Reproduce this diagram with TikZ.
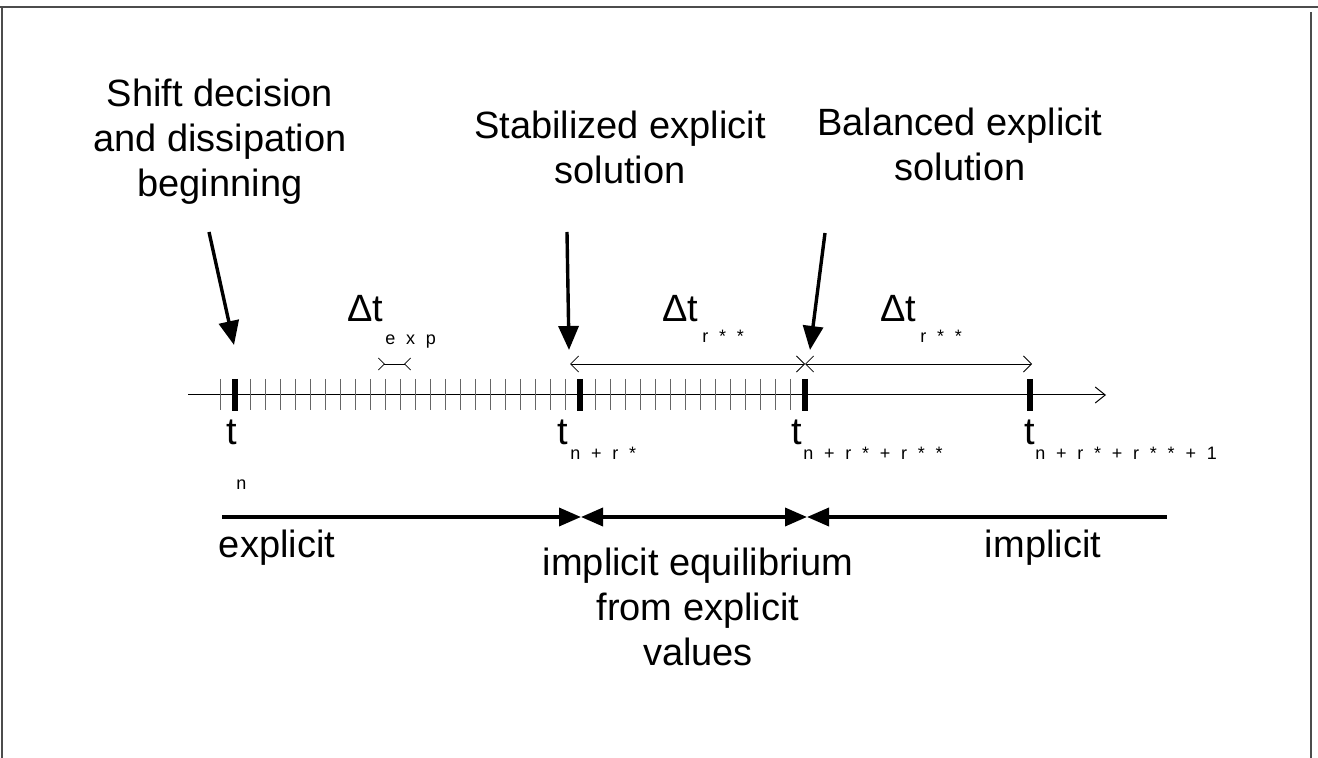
\documentclass[tikz,border=0pt]{standalone}
\usepackage{fontspec}
\setmainfont{Liberation Sans}
\newfontfamily\subfont{Liberation Sans}[LetterSpace=32]
\usetikzlibrary{arrows.meta, positioning}

\begin{document}
\begin{tikzpicture}[x=0.5pt, y=-0.5pt,
        lbl/.style={align=center, inner sep=0pt, font=\fontsize{19}{22.5}\selectfont},
        sublbl/.style={inner sep=0pt, anchor=base west, font=\fontsize{9}{10}\subfont},
        pointer/.style={-{Triangle[length=12pt, width=10pt]}, line width=1.7pt},
        dimline/.style={{Straight Barb[length=4pt, width=8pt]}-{Straight Barb[length=4pt, width=8pt]}, line width=0.4pt},
        phase/.style={line width=1.8pt},
        frame/.style={draw=black!70, line width=1pt}]

        \useasboundingbox (0,0) rectangle (1318,758);

        % Rahmen
        \draw[frame] (0,7) -- (1318,7);
        \draw[frame] (2,7) -- (2,758);
        \draw[frame, line width=0.8pt] (1311,12) -- (1311,758);

        % Zeitachse
        \coordinate (ax0) at (188,395);
        \coordinate (ax1) at (1106,395);
        \draw[-{Straight Barb[length=5pt, width=8pt]}, line width=0.5pt] (ax0) -- (ax1);
        \foreach \k in {0,...,38}
            \draw[black!60, line width=0.5pt] (220+15*\k,379) -- (220+15*\k,410);

        % Zeitpunkte
        \coordinate (tn) at (235,395);
        \coordinate (tr) at (580,395);
        \coordinate (trr) at (805,395);
        \coordinate (trr1) at (1030,395);
        \foreach \p in {tn,tr,trr,trr1}
            \draw[line width=2.6pt] ([yshift=8pt]\p) -- ([yshift=-8pt]\p);

        \node[lbl, anchor=base] (ttn) at (232,445) {t};
        \node[lbl, anchor=base] (ttr) at (563,445) {t};
        \node[lbl, anchor=base] (ttrr) at (797,445) {t};
        \node[lbl, anchor=base] (ttrr1) at (1030,445) {t};
        \node[sublbl] (stn) at (236,490) {n};
        \node[sublbl] (str) at (570,460) {n + r *};
        \node[sublbl] (strr) at (803,460) {n + r * + r * *};
        \node[sublbl] (strr1) at (1035,460) {n + r * + r * * + 1};

        % Beschriftungen oben
        \node[lbl] (shift) at (220,142) {Shift decision\\and dissipation\\beginning};
        \node[lbl] (stab) at (620,147) {Stabilized explicit\\solution};
        \node[lbl] (bal) at (960,144) {Balanced explicit\\solution};

        \coordinate (p1s) at (209,232);
        \coordinate (p1e) at (234,345);
        \coordinate (p2s) at (567,232);
        \coordinate (p2e) at (569,350);
        \coordinate (p3s) at (825,233);
        \coordinate (p3e) at (810,350);
        \draw[pointer] (p1s) -- (p1e);
        \draw[pointer] (p2s) -- (p2e);
        \draw[pointer] (p3s) -- (p3e);

        % Zeitschritte
        \node[lbl, anchor=base west] (dte) at (347,322) {Δt};
        \node[sublbl] (dtesub) at (385,345) {e x p};
        \coordinate (ex0) at (378,364);
        \coordinate (ex1) at (411,364);
        \draw[{Straight Barb[reversed, length=3pt, width=6pt]}-{Straight Barb[reversed, length=3pt, width=6pt]}, line width=0.4pt] (ex0) -- (ex1);

        \coordinate (d0) at (570,364);
        \coordinate (d1) at (805,364);
        \coordinate (d2) at (1032,364);
        \draw[dimline] (d0) -- (d1);
        \draw[dimline] (d1) -- (d2);
        \node[lbl, anchor=base west] (dtr) at (662,322) {Δt};
        \node[sublbl] (dtrsub) at (702,343) {r * *};
        \node[lbl, anchor=base west] (dtrr) at (880,322) {Δt};
        \node[sublbl] (dtrrsub) at (920,343) {r * *};

        % Verfahren
        \coordinate (ph0) at (222,517);
        \coordinate (ph1) at (581,517);
        \coordinate (ph2) at (807,517);
        \coordinate (ph3) at (1167,517);
        \draw[phase, -{Triangle[length=11pt, width=9pt]}] (ph0) -- (ph1);
        \draw[phase, {Triangle[length=11pt, width=9pt]}-{Triangle[length=11pt, width=9pt]}] (ph1) -- (ph2);
        \draw[phase, {Triangle[length=11pt, width=9pt]}-] (ph2) -- (ph3);

        \node[lbl] (expl) at (277,548) {explicit};
        \node[lbl] (equi) at (698,607) {implicit equilibrium\\from explicit\\values};
        \node[lbl] (impl) at (1043,548) {implicit};
    \end{tikzpicture}
\end{document}
